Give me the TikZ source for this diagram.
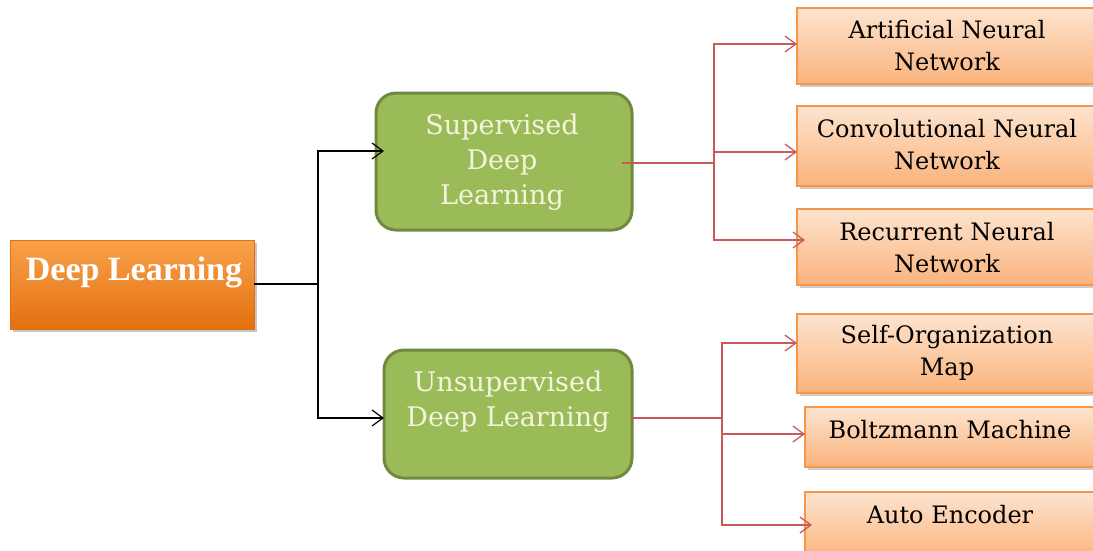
\documentclass[tikz,border=0pt]{standalone}
\usepackage{fontspec}
\setmainfont{DejaVu Serif}
\newfontfamily\titlefont{Liberation Serif}
\usetikzlibrary{arrows.meta,shadows,positioning}
\definecolor{orangeTop}{HTML}{FDE4CF}
\definecolor{orangeBot}{HTML}{FAB37C}
\definecolor{orangeEdge}{HTML}{F79646}
\definecolor{deepTop}{HTML}{F9A24B}
\definecolor{deepBot}{HTML}{E3700F}
\definecolor{greenFill}{HTML}{9BBB59}
\definecolor{greenEdge}{HTML}{71893F}
\definecolor{linkRed}{HTML}{C9595A}
\definecolor{creamText}{HTML}{F4F4DC}
\tikzset{
  x=1pt, y=-1pt,
  leafbox/.style={draw=orangeEdge, line width=1.2pt, top color=orangeTop, bottom color=orangeBot,
    drop shadow={shadow xshift=2.5pt, shadow yshift=-2.5pt, opacity=0.4}},
  rootbox/.style={draw=deepBot, line width=0.8pt, top color=deepTop, bottom color=deepBot,
    drop shadow={shadow xshift=3pt, shadow yshift=-3pt, opacity=0.45}},
  groupbox/.style={draw=greenEdge, line width=3pt, fill=greenFill, rounded corners=20pt},
  leaftext/.style={font=\fontsize{24}{32}\selectfont, text=black, align=center},
  grouptext/.style={font=\fontsize{27}{35}\selectfont, text=creamText, align=center},
  blacklink/.style={draw=black, line width=1.2pt, -{Straight Barb[length=11pt,width=16pt]}},
  redlink/.style={draw=linkRed, line width=1.3pt, -{Straight Barb[length=11pt,width=16pt]}},
}
\begin{document}
\begin{tikzpicture}
\useasboundingbox (0,0) rectangle (1093,550);

% root box
\draw[rootbox] (10,240) rectangle (254,329);
\node[font=\titlefont\bfseries\fontsize{34}{38}\selectfont, text=white] (dl) at (134,272) {Deep Learning};
\coordinate (dlE) at (254,284);

% group boxes
\draw[groupbox] (376,93) rectangle (632,230);
\node[grouptext] (sup) at (502,162) {Supervised\\Deep\\Learning};
\draw[groupbox] (384,350) rectangle (632,478);
\node[grouptext] (uns) at (508,402) {Unsupervised\\Deep Learning};

% leaf boxes
\draw[leafbox] (797,8) rectangle (1098,84);
\node[leaftext] (ann) at (947,46) {Artificial Neural\\Network};
\draw[leafbox] (797,106) rectangle (1098,186);
\node[leaftext] (cnn) at (947,145) {Convolutional Neural\\Network};
\draw[leafbox] (797,209) rectangle (1098,285);
\node[leaftext] (rnn) at (947,248) {Recurrent Neural\\Network};
\draw[leafbox] (797,314) rectangle (1098,393);
\node[leaftext] (som) at (947,353) {Self-Organization\\Map};
\draw[leafbox] (805,407) rectangle (1098,467);
\node[leaftext] (bm) at (950,430) {Boltzmann Machine};
\draw[leafbox] (805,492) rectangle (1098,560);
\node[leaftext] (ae) at (950,515) {Auto Encoder};

% anchor points for the connectors
\coordinate (supW) at (384,151);
\coordinate (unsW) at (384,418);
\coordinate (supE) at (622,163);
\coordinate (unsE) at (632,418);
\coordinate (annW) at (797,44);
\coordinate (cnnW) at (797,152);
\coordinate (rnnW) at (805,240);
\coordinate (somW) at (797,343);
\coordinate (bmW) at (805,434);
\coordinate (aeW) at (812,525);

% black connectors
\draw[line width=1.2pt] (dlE) -- (318,284);
\draw[blacklink] (318,284) |- (supW);
\draw[blacklink] (318,284) |- (unsW);

% red connectors from supervised
\draw[linkRed, line width=1.3pt] (supE) -- (714,163);
\draw[redlink] (714,163) |- (annW);
\draw[redlink] (714,163) |- (cnnW);
\draw[redlink] (714,163) |- (rnnW);

% red connectors from unsupervised
\draw[linkRed, line width=1.3pt] (unsE) -- (722,418);
\draw[redlink] (722,418) |- (somW);
\draw[redlink] (722,418) |- (bmW);
\draw[redlink] (722,418) |- (aeW);
\end{tikzpicture}
\end{document}
